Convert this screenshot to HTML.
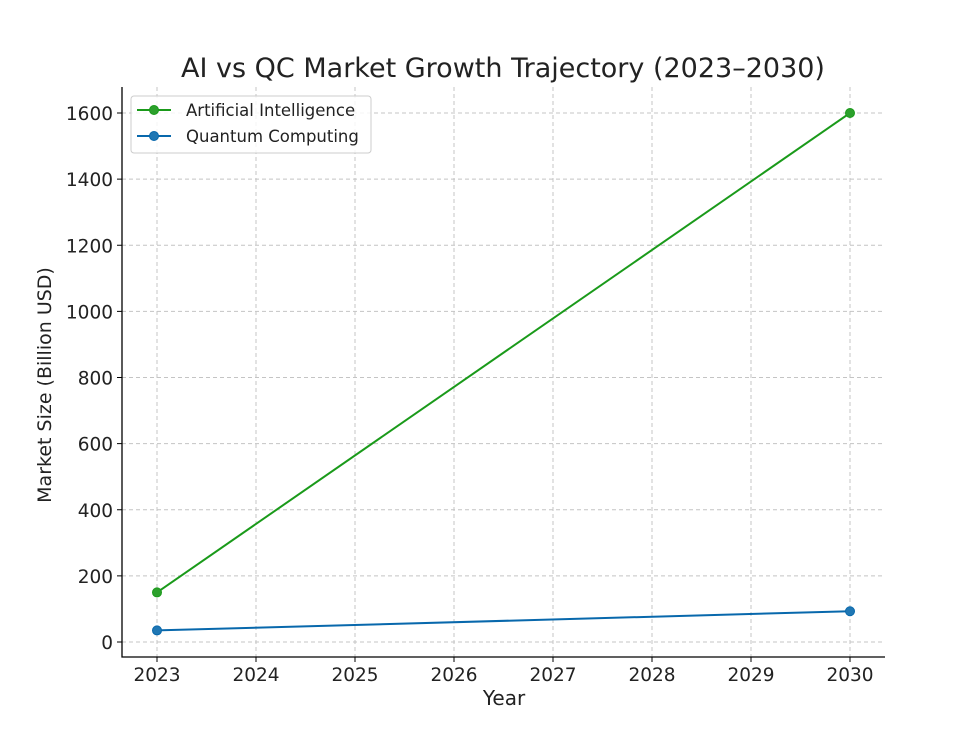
<!DOCTYPE html>
<html><head><meta charset="utf-8"><style>
body{margin:0;background:#fff;}
svg text{font-family:"DejaVu Sans","Liberation Sans",sans-serif;fill:#222;}
</style></head><body>
<svg id="chart" width="980" height="736" xmlns="http://www.w3.org/2000/svg">
<rect width="980" height="736" fill="#fff"/>
<text x="503" y="77" font-size="27" text-anchor="middle">AI vs QC Market Growth Trajectory (2023–2030)</text>
<g id="grid"></g>
<g id="axes"></g>
<g id="series"></g>
<text x="504" y="705" font-size="20" text-anchor="middle">Year</text>
<text transform="translate(51,385) rotate(-90)" font-size="19" text-anchor="middle">Market Size (Billion USD)</text>
<g>
<rect x="131" y="96" width="240" height="57" rx="3" fill="#fff" fill-opacity="0.85" stroke="#ccc"/>
<line x1="137" y1="110" x2="171" y2="110" stroke="#1a9a1a" stroke-width="2"/>
<circle cx="154" cy="110" r="4.5" fill="#2ca02c" stroke="#1a9a1a"/>
<text x="186" y="116" font-size="16.5">Artificial Intelligence</text>
<line x1="137" y1="136" x2="171" y2="136" stroke="#0868ac" stroke-width="2"/>
<circle cx="154" cy="136" r="4.5" fill="#1f77b4" stroke="#0868ac"/>
<text x="186" y="142" font-size="16.5">Quantum Computing</text>
</g>
</svg>
<script>
const years=[2023,2030];
const aiValues=[150,1600];
const qcValues=[35,93];
const xTicks=[2023,2024,2025,2026,2027,2028,2029,2030];
const yTicks=[0,200,400,600,800,1000,1200,1400,1600];
const NS="http://www.w3.org/2000/svg";
const L=122,R=885,T=87,B=657;
const xs=v=>157+(v-2023)*(850-157)/7;
const ys=v=>642-v*(642-113)/1600;
function mk(tag,attrs,parent){const e=document.createElementNS(NS,tag);for(const k in attrs)e.setAttribute(k,attrs[k]);parent.appendChild(e);return e;}
const grid=document.getElementById('grid'),axes=document.getElementById('axes'),ser=document.getElementById('series');
xTicks.forEach(t=>{const x=xs(t);
 const g=mk('line',{x1:x,x2:x,y1:T,y2:B,stroke:'#c4c4c4','stroke-dasharray':'4,3','stroke-width':1},grid);
 
 
 mk('line',{x1:x,x2:x,y1:B,y2:B+5,stroke:'#000'},axes);
 const tx=mk('text',{x:x,y:B+24,'font-size':18.5,'text-anchor':'middle'},axes);tx.textContent=t;
 
 
});
yTicks.forEach(t=>{const y=ys(t);
 const g=mk('line',{x1:L,x2:R,y1:y,y2:y,stroke:'#c4c4c4','stroke-dasharray':'4,3','stroke-width':1},grid);
 
 
 mk('line',{x1:L-5,x2:L,y1:y,y2:y,stroke:'#000'},axes);
 const tx=mk('text',{x:L-9,y:y+7,'font-size':18.5,'text-anchor':'end'},axes);tx.textContent=t;
 
 
});
const ax=mk('path',{d:`M${L},${T}V${B}H${R}`,fill:'none',stroke:'#000','stroke-width':1.3},axes);


function series(vals,stroke,fill,name){
 const p=mk('polyline',{points:years.map((y,i)=>xs(y)+','+ys(vals[i])).join(' '),fill:'none',stroke:stroke,'stroke-width':2},ser);
 
 
 years.forEach((y,i)=>{const c=mk('circle',{cx:xs(y),cy:ys(vals[i]),r:4.5,fill:fill,stroke:stroke},ser);
  
  });
}
series(aiValues,'#1a9a1a','#2ca02c','ai');
series(qcValues,'#0868ac','#1f77b4','qc');
</script>
</body></html>
